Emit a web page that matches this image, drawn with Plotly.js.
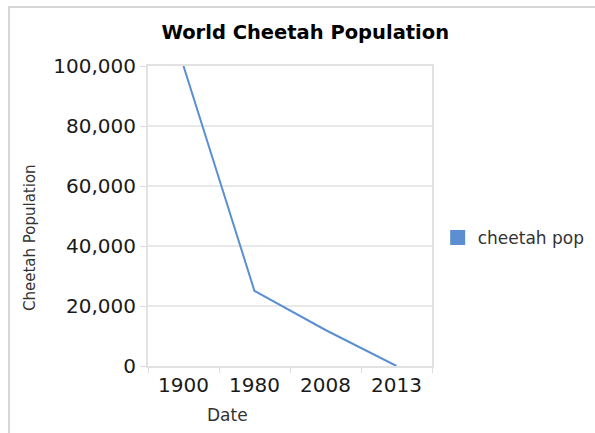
<!DOCTYPE html>
<html>
<head>
<meta charset="utf-8">
<script src="https://cdn.plot.ly/plotly-3.0.1.min.js"></script>
<style>
html,body{margin:0;padding:0;background:#fff;}
#wrap{position:relative;width:595px;height:433px;}
#chart{width:595px;height:433px;}
#frame{position:absolute;left:8px;top:6px;right:0;bottom:0;border-top:2px solid #d6d6d6;border-left:2px solid #d6d6d6;pointer-events:none;}
</style>
</head>
<body>
<div id="wrap"><div id="chart"></div><div id="frame"></div></div>
<script>
const categories = ['1900', '1980', '2008', '2013'];
const cheetahPop = [100000, 25000, 12000, 0];
const seriesName = 'cheetah pop';
const yTickVals = [0, 20000, 40000, 60000, 80000, 100000];
const yTickText = ['0', '20,000', '40,000', '60,000', '80,000', '100,000'];

const lineColor = '#5b8fd2';
const font = 'DejaVu Sans, sans-serif';

const traces = [
  {
    type: 'scatter', mode: 'lines', x: categories, y: cheetahPop,
    name: seriesName, showlegend: false,
    line: {color: lineColor, width: 2}, hoverinfo: 'skip'
  },
  {
    // legend entry only (square swatch); null value draws no bar
    type: 'bar', x: [categories[0]], y: [null], name: seriesName, showlegend: true,
    marker: {color: lineColor, line: {color: lineColor, width: 3}}
  }
];

const layout = {
  width: 595, height: 433,
  margin: {l: 148, r: 163, t: 66, b: 67, autoexpand: false},
  paper_bgcolor: '#ffffff', plot_bgcolor: '#ffffff',
  font: {family: font, color: '#1a1a1a'},
  title: {text: '<b>World Cheetah Population</b>', font: {family: font, size: 19.5, color: '#000'},
    x: 0.513, xref: 'container', xanchor: 'center', y: 0.926, yref: 'container', yanchor: 'middle'},
  xaxis: {
    type: 'category', range: [-0.5, 3.5], tickson: 'boundaries', automargin: false,
    ticks: 'outside', ticklen: 5, tickcolor: '#dcdcdc', tickwidth: 1,
    showgrid: false, showline: true, mirror: true, linecolor: '#e2e2e2', linewidth: 2,
    tickfont: {family: font, size: 20, color: '#1a1a1a'}, zeroline: false, fixedrange: true
  },
  yaxis: {
    range: [0, 100000], tickvals: yTickVals, ticktext: yTickText, automargin: false,
    ticks: 'outside', ticklen: 6, tickcolor: '#dcdcdc', tickwidth: 1,
    showgrid: true, gridcolor: '#e8e8e8', gridwidth: 2,
    showline: true, mirror: true, linecolor: '#e2e2e2', linewidth: 2,
    zeroline: false, tickfont: {family: font, size: 20, color: '#1a1a1a'},
    ticklabelstandoff: 0, fixedrange: true
  },
  legend: {
    x: 1.02, xanchor: 'left', y: 0.427, yanchor: 'middle',
    font: {family: font, size: 17, color: '#333'}, bgcolor: 'rgba(0,0,0,0)',
    itemwidth: 30
  },
  annotations: [
    {text: 'Cheetah Population', xref: 'paper', yref: 'paper', x: (30 - 148) / 284, y: (366 - 238) / 300,
     textangle: -90, showarrow: false, font: {family: font, size: 15, color: '#333'}, xanchor: 'center', yanchor: 'middle'},
    {text: 'Date', xref: 'paper', yref: 'paper', x: (227 - 148) / 284, y: (366 - 415) / 300,
     showarrow: false, font: {family: font, size: 17, color: '#333'}, xanchor: 'center', yanchor: 'middle'}
  ],
  showlegend: true
};

Plotly.newPlot('chart', traces, layout, {displayModeBar: false, staticPlot: true});
</script>
</body>
</html>
